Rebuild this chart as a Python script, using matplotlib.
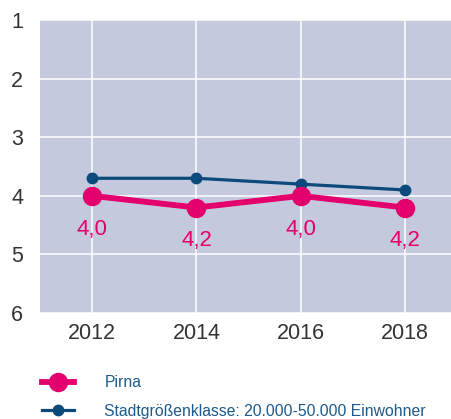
import matplotlib.pyplot as plt

plt.rcParams['font.family'] = ['Liberation Sans', 'DejaVu Sans']

# Daten
jahre = [2012, 2014, 2016, 2018]
pirna = [4.0, 4.2, 4.0, 4.2]
stadtklasse = [3.7, 3.7, 3.8, 3.9]
pirna_labels = ['4,0', '4,2', '4,0', '4,2']

pink = '#E3006D'
blau = '#0B4A7A'

fig = plt.figure(figsize=(4.52, 4.19), dpi=100)
ax = fig.add_axes([0.0885, 0.253, 0.9115, 0.699])
ax.set_facecolor('#C5C9DD')

ax.plot(jahre, stadtklasse, color=blau, lw=2.3, marker='o', ms=7.5,
        label='Stadtgrößenklasse: 20.000-50.000 Einwohner', zorder=3)
ax.plot(jahre, pirna, color=pink, lw=4.2, marker='o', ms=13,
        label='Pirna', zorder=4)

for x, y, t in zip(jahre, pirna, pirna_labels):
    ax.annotate(t, (x, y), xytext=(0, -24), textcoords='offset points',
                ha='center', va='center', color=pink, fontsize=16)

ax.set_ylim(6, 1)
ax.set_xlim(2011.0, 2018.9)
ax.set_xticks(jahre)
ax.set_yticks([1, 2, 3, 4, 5, 6])
ax.grid(True, color='white', lw=1.1)
ax.set_axisbelow(True)
for s in ax.spines.values():
    s.set_visible(False)
ax.tick_params(length=0, labelsize=15.5, colors='#333333')
ax.tick_params(axis='y', pad=12)
ax.tick_params(axis='x', pad=7)

h, l = ax.get_legend_handles_labels()
leg = fig.legend(h[::-1], l[::-1], loc='upper left', bbox_to_anchor=(0.078, 0.12),
                 frameon=False, fontsize=11.3, handlelength=2.1, handletextpad=1.9,
                 labelspacing=0.87, borderaxespad=0)
for t in leg.get_texts():
    t.set_color('#1B5A8C')

fig.savefig('out.png', dpi=100)
